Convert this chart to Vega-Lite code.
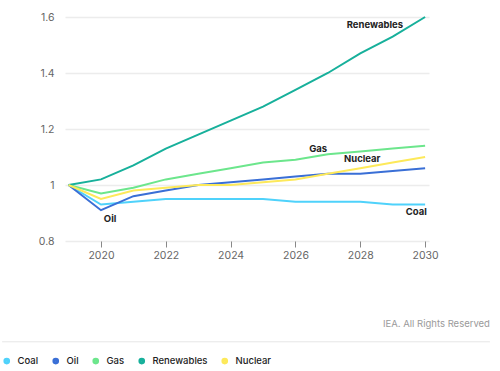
{
  "$schema": "https://vega.github.io/schema/vega-lite/v6.json",
  "autosize": "none",
  "width": 364,
  "height": 224,
  "padding": {"left": 65, "top": 17, "right": 71, "bottom": 130},
  "config": {
    "font": "Inter",
    "view": {"stroke": null}
  },
  "datasets": {
    "series": [
      {"year": 2019, "fuel": "Coal", "value": 1.0},
      {"year": 2020, "fuel": "Coal", "value": 0.93},
      {"year": 2021, "fuel": "Coal", "value": 0.94},
      {"year": 2022, "fuel": "Coal", "value": 0.95},
      {"year": 2023, "fuel": "Coal", "value": 0.95},
      {"year": 2024, "fuel": "Coal", "value": 0.95},
      {"year": 2025, "fuel": "Coal", "value": 0.95},
      {"year": 2026, "fuel": "Coal", "value": 0.94},
      {"year": 2027, "fuel": "Coal", "value": 0.94},
      {"year": 2028, "fuel": "Coal", "value": 0.94},
      {"year": 2029, "fuel": "Coal", "value": 0.93},
      {"year": 2030, "fuel": "Coal", "value": 0.93},
      {"year": 2019, "fuel": "Oil", "value": 1.0},
      {"year": 2020, "fuel": "Oil", "value": 0.91},
      {"year": 2021, "fuel": "Oil", "value": 0.96},
      {"year": 2022, "fuel": "Oil", "value": 0.98},
      {"year": 2023, "fuel": "Oil", "value": 1.0},
      {"year": 2024, "fuel": "Oil", "value": 1.01},
      {"year": 2025, "fuel": "Oil", "value": 1.02},
      {"year": 2026, "fuel": "Oil", "value": 1.03},
      {"year": 2027, "fuel": "Oil", "value": 1.04},
      {"year": 2028, "fuel": "Oil", "value": 1.04},
      {"year": 2029, "fuel": "Oil", "value": 1.05},
      {"year": 2030, "fuel": "Oil", "value": 1.06},
      {"year": 2019, "fuel": "Gas", "value": 1.0},
      {"year": 2020, "fuel": "Gas", "value": 0.97},
      {"year": 2021, "fuel": "Gas", "value": 0.99},
      {"year": 2022, "fuel": "Gas", "value": 1.02},
      {"year": 2023, "fuel": "Gas", "value": 1.04},
      {"year": 2024, "fuel": "Gas", "value": 1.06},
      {"year": 2025, "fuel": "Gas", "value": 1.08},
      {"year": 2026, "fuel": "Gas", "value": 1.09},
      {"year": 2027, "fuel": "Gas", "value": 1.11},
      {"year": 2028, "fuel": "Gas", "value": 1.12},
      {"year": 2029, "fuel": "Gas", "value": 1.13},
      {"year": 2030, "fuel": "Gas", "value": 1.14},
      {"year": 2019, "fuel": "Renewables", "value": 1.0},
      {"year": 2020, "fuel": "Renewables", "value": 1.02},
      {"year": 2021, "fuel": "Renewables", "value": 1.07},
      {"year": 2022, "fuel": "Renewables", "value": 1.13},
      {"year": 2023, "fuel": "Renewables", "value": 1.18},
      {"year": 2024, "fuel": "Renewables", "value": 1.23},
      {"year": 2025, "fuel": "Renewables", "value": 1.28},
      {"year": 2026, "fuel": "Renewables", "value": 1.34},
      {"year": 2027, "fuel": "Renewables", "value": 1.40},
      {"year": 2028, "fuel": "Renewables", "value": 1.47},
      {"year": 2029, "fuel": "Renewables", "value": 1.53},
      {"year": 2030, "fuel": "Renewables", "value": 1.60},
      {"year": 2019, "fuel": "Nuclear", "value": 1.0},
      {"year": 2020, "fuel": "Nuclear", "value": 0.95},
      {"year": 2021, "fuel": "Nuclear", "value": 0.98},
      {"year": 2022, "fuel": "Nuclear", "value": 0.99},
      {"year": 2023, "fuel": "Nuclear", "value": 1.0},
      {"year": 2024, "fuel": "Nuclear", "value": 1.0},
      {"year": 2025, "fuel": "Nuclear", "value": 1.01},
      {"year": 2026, "fuel": "Nuclear", "value": 1.02},
      {"year": 2027, "fuel": "Nuclear", "value": 1.04},
      {"year": 2028, "fuel": "Nuclear", "value": 1.06},
      {"year": 2029, "fuel": "Nuclear", "value": 1.08},
      {"year": 2030, "fuel": "Nuclear", "value": 1.10}
    ],
    "labels": [
      {"label": "Renewables", "year": 2028.45, "value": 1.57},
      {"label": "Gas", "year": 2026.7, "value": 1.13},
      {"label": "Nuclear", "year": 2028.06, "value": 1.093},
      {"label": "Oil", "year": 2020.28, "value": 0.88},
      {"label": "Coal", "year": 2029.73, "value": 0.903}
    ]
  },
  "layer": [
    {
      "data": {"name": "series"},
      "mark": {"type": "line", "strokeWidth": 2, "clip": false},
      "encoding": {
        "x": {
          "field": "year", "type": "quantitative",
          "scale": {"domain": [2018.89, 2030.12], "nice": false, "zero": false},
          "axis": {
            "title": null, "values": [2020, 2022, 2024, 2026, 2028, 2030], "format": "d",
            "grid": false, "domain": false, "ticks": true, "tickSize": 6, "tickColor": "#888888",
            "labelColor": "#666666", "labelFontSize": 10.5, "labelPadding": 3, "tickWidth": 1
          }
        },
        "y": {
          "field": "value", "type": "quantitative",
          "scale": {"domain": [0.8, 1.6], "nice": false, "zero": false},
          "axis": {
            "title": null, "values": [0.8, 1.0, 1.2, 1.4, 1.6], "format": "~g",
            "grid": true, "gridColor": "#ececec", "gridWidth": 1.5, "domain": false, "ticks": false,
            "labelColor": "#666666", "labelFontSize": 10.5, "labelPadding": 11
          }
        },
        "color": {
          "field": "fuel", "type": "nominal",
          "scale": {
            "domain": ["Coal", "Oil", "Gas", "Renewables", "Nuclear"],
            "range": ["#4fd2fb", "#3a6fd6", "#6ce68c", "#17b09b", "#fde95a"]
          },
          "legend": {
            "title": null, "orient": "none", "direction": "horizontal",
            "legendX": -63, "legendY": 339,
            "symbolType": "circle", "symbolSize": 10, "symbolStrokeWidth": 3.5,
            "symbolOpacity": 1, "labelFontSize": 9.5, "labelColor": "#222222", "labelFontWeight": 500,
            "columnPadding": 8, "labelOffset": 6
          }
        }
      }
    },
    {
      "data": {"name": "labels"},
      "mark": {"type": "text", "fontWeight": "bold", "fontSize": 9.5, "color": "#222222", "clip": false},
      "encoding": {
        "x": {"field": "year", "type": "quantitative"},
        "y": {"field": "value", "type": "quantitative"},
        "text": {"field": "label"}
      }
    },
    {
      "data": {"values": [{"t": "IEA. All Rights Reserved"}]},
      "mark": {"type": "text", "align": "right", "fontSize": 9.5, "color": "#9a9a9a", "clip": false},
      "encoding": {
        "x": {"datum": 2032.0, "type": "quantitative"},
        "y": {"datum": 0.505, "type": "quantitative"},
        "text": {"field": "t"}
      }
    },
    {
      "data": {"values": [{"a": 1}]},
      "mark": {"type": "rule", "color": "#e6e6e6", "strokeWidth": 1, "clip": false},
      "encoding": {
        "x": {"datum": 2016.95, "type": "quantitative"},
        "x2": {"datum": 2032.0},
        "y": {"datum": 0.44, "type": "quantitative"}
      }
    }
  ]
}
